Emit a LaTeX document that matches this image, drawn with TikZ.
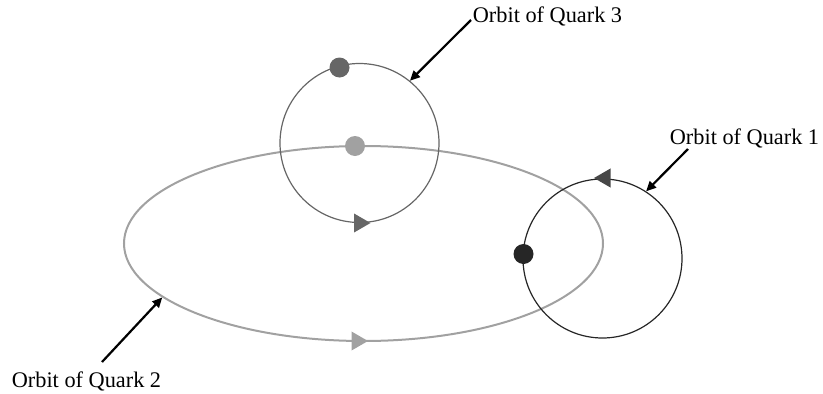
\documentclass[tikz,border=0pt]{standalone}
\usepackage{fontspec}
\setmainfont{Liberation Serif}
\usetikzlibrary{shapes.geometric,arrows.meta}
\definecolor{orbthree}{gray}{0.40}
\definecolor{orbtwo}{gray}{0.63}
\definecolor{orbone}{gray}{0.15}
\begin{document}
\begin{tikzpicture}[x=1pt,y=-1pt,
  orbitc/.style={draw=#1, circle, inner sep=0pt, minimum size=159pt, line width=1.2pt},
  quark/.style={circle, fill=#1, inner sep=0pt, minimum size=20pt},
  dirmark/.style={regular polygon, regular polygon sides=3, fill=#1, inner sep=0pt, minimum size=22pt},
  lbl/.style={anchor=base, font=\fontsize{22.3}{26}\selectfont, inner sep=0pt},
  pointer/.style={line width=2.2pt, -{Triangle[length=10pt,width=9pt]}}]
\useasboundingbox (0,0) rectangle (823,394);
% orbits
\node[draw=orbtwo, ellipse, inner sep=0pt, minimum width=479pt, minimum height=195pt, line width=2pt] (e2) at (363.5,243.5) {};
\node[orbitc=orbthree] (c3) at (359.5,143) {};
\node[orbitc=orbone] (c1) at (602.5,258.5) {};
% quarks
\node[quark=orbthree] (q3) at (339.5,67.5) {};
\node[quark=orbtwo] (q2) at (355,146) {};
\node[quark=orbone] (q1) at (523.5,254) {};
% direction marks
\node[dirmark=orbthree, shape border rotate=-90] (t3) at (359.5,223) {};
\node[dirmark=orbtwo, shape border rotate=-90] (t2) at (357,341) {};
\node[dirmark=orbone!85!white, shape border rotate=90] (t1) at (605,178) {};
% labels
\node[lbl] (l3) at (547.5,22) {Orbit of Quark 3};
\node[lbl] (l1) at (744.5,144) {Orbit of Quark 1};
\node[lbl] (l2) at (86.5,387) {Orbit of Quark 2};
% pointers
\coordinate (s3) at (471,20);
\coordinate (s1) at (688,149);
\coordinate (s2) at (102,362);
\draw[pointer] (s3) -- (c3.51);
\draw[pointer] (s1) -- (c1.57);
\draw[pointer] (s2) -- (e2.195.4);
\end{tikzpicture}
\end{document}
